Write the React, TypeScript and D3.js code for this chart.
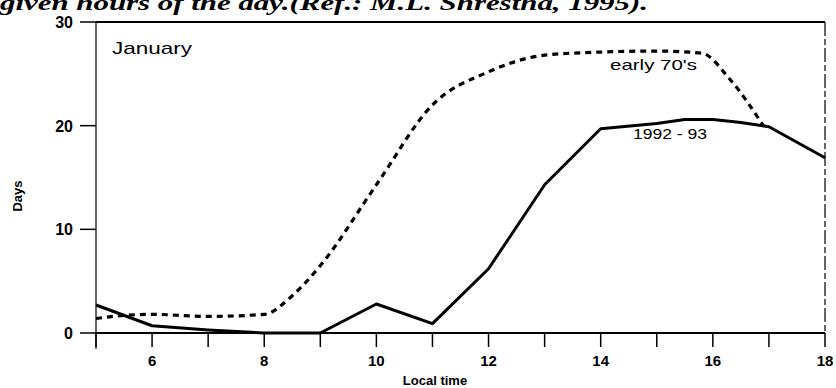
import React from "react";
import * as d3 from "d3";

const hours = [5, 6, 7, 8, 9, 10, 11, 12, 13, 14, 15, 16, 17, 18];
const xTickLabels = [6, 8, 10, 12, 14, 16, 18];
const yTicks = [0, 10, 20, 30];

const recentHours = [5, 6, 7, 8, 9, 10, 11, 12, 13, 14, 15, 15.5, 16, 16.5, 17, 18];
const recentDays = [2.7, 0.7, 0.3, 0, 0, 2.8, 0.9, 6.2, 14.3, 19.7, 20.2, 20.6, 20.6, 20.3, 19.9, 16.9];

const earlyHours = [5, 5.5, 6, 7, 8, 8.5, 9, 10, 11, 12, 13, 14, 15, 15.8, 16.3, 16.9];
const earlyDays = [1.4, 1.7, 1.8, 1.6, 1.8, 3.6, 6.5, 14.3, 22.0, 25.2, 26.8, 27.1, 27.2, 27.0, 24.5, 20.0];

const W = 836;
const H = 388;

export default function App() {
  const x = d3.scaleLinear().domain([5, 18]).range([96, 825]);
  const y = d3.scaleLinear().domain([0, 30]).range([333, 22]);

  const solid = d3
    .line<number>()
    .x((_, i) => x(recentHours[i]))
    .y((d) => y(d))(recentDays) as string;

  const dashed = d3
    .line<number>()
    .x((_, i) => x(earlyHours[i]))
    .y((d) => y(d))
    .curve(d3.curveMonotoneX)(earlyDays) as string;

  const font = "'Liberation Sans', Arial, sans-serif";

  return (
    <svg
      width={W}
      height={H}
      style={{ position: "absolute", left: 0, top: 0, background: "#fff" }}
    >
      <text
        x={0}
        y={10}
        fontFamily="'Liberation Serif', 'Times New Roman', serif"
        fontStyle="italic"
        fontWeight="bold"
        fontSize={21}
        textLength={648}
        lengthAdjust="spacingAndGlyphs"
        fill="#000"
      >
        given hours of the day.(Ref.: M.L. Shrestha, 1995).
      </text>

      {/* frame */}
      <line x1={x(5)} x2={x(18)} y1={y(30)} y2={y(30)} stroke="#000" strokeWidth={2} />
      <line x1={x(18)} x2={x(18)} y1={y(30)} y2={y(0)} stroke="#000" strokeWidth={1.2} strokeDasharray="14 3 6 3" />
      <line x1={x(5)} x2={x(5)} y1={y(30)} y2={y(0) + 16} stroke="#000" strokeWidth={1.2} />
      <line x1={x(5)} x2={x(18)} y1={y(0)} y2={y(0)} stroke="#000" strokeWidth={2} />

      {/* y ticks */}
      {yTicks.map((t) => (
        <g key={"y" + t}>
          <line x1={x(5) - 16} x2={x(5)} y1={y(t)} y2={y(t)} stroke="#000" strokeWidth={1.5} />
          <text
            x={x(5) - 23}
            y={y(t) + 6}
            textAnchor="end"
            fontFamily={font}
            fontWeight="bold"
            fontSize={16}
            fill="#000"
          >
            {t}
          </text>
        </g>
      ))}

      {/* x ticks */}
      {hours.map((h) => (
        <line key={"x" + h} x1={x(h)} x2={x(h)} y1={y(0)} y2={y(0) + 14} stroke="#000" strokeWidth={1.5} />
      ))}
      {xTickLabels.map((h) => (
        <text
          key={"xl" + h}
          x={x(h)}
          y={366}
          textAnchor="middle"
          fontFamily={font}
          fontWeight="bold"
          fontSize={15}
          fill="#000"
        >
          {h}
        </text>
      ))}

      {/* axis titles */}
      <text
        transform={`translate(22,196) rotate(-90)`}
        textAnchor="middle"
        fontFamily={font}
        fontWeight="bold"
        fontSize={13}
        fill="#000"
      >
        Days
      </text>
      <text
        x={435}
        y={385}
        textAnchor="middle"
        fontFamily={font}
        fontWeight="bold"
        fontSize={13}
        fill="#000"
      >
        Local time
      </text>

      {/* series */}
      <path d={dashed} fill="none" stroke="#000" strokeWidth={3.2} strokeDasharray="6 5" />
      <path d={solid} fill="none" stroke="#000" strokeWidth={3} strokeLinejoin="round" />

      {/* labels */}
      <text x={112} y={54} fontFamily={font} fontSize={17} textLength={80} lengthAdjust="spacingAndGlyphs" fill="#000">
        January
      </text>
      <text x={610} y={70} fontFamily={font} fontSize={15} textLength={87} lengthAdjust="spacingAndGlyphs" fill="#000">
        early 70's
      </text>
      <text x={633} y={139} fontFamily={font} fontSize={15} textLength={74} lengthAdjust="spacingAndGlyphs" fill="#000">
        1992 - 93
      </text>
    </svg>
  );
}
